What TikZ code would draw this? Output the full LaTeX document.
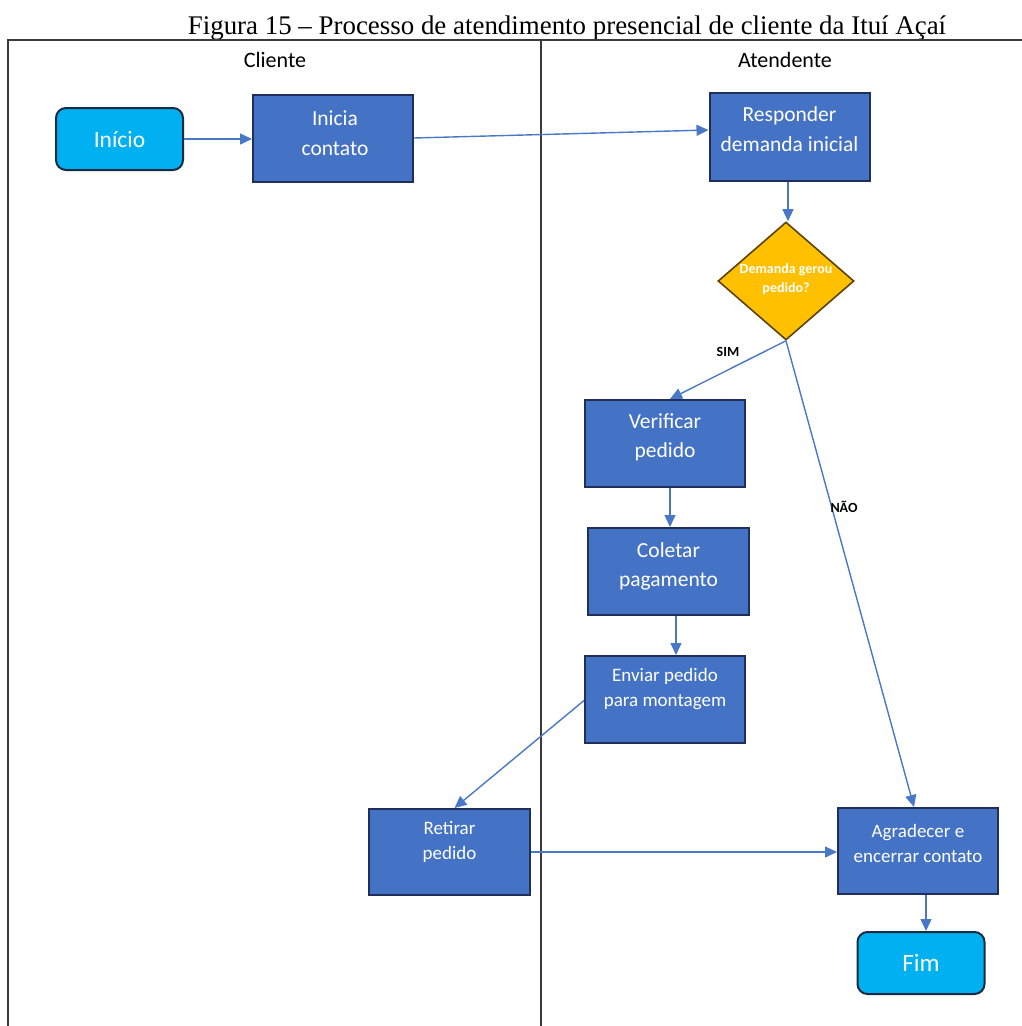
\documentclass[tikz,border=0pt]{standalone}
\usepackage{fontspec}
\setmainfont{Carlito}
\newfontfamily\capfont{Liberation Serif}
\usetikzlibrary{shapes.geometric,arrows.meta,calc}
\definecolor{boxblue}{HTML}{4472C4}
\definecolor{boxedge}{HTML}{1F2F5A}
\definecolor{termcyan}{HTML}{00B0F0}
\definecolor{termedge}{HTML}{1A2A40}
\definecolor{dgold}{HTML}{FFC000}
\definecolor{dedge}{HTML}{5A4500}
\definecolor{arrblue}{HTML}{4A78C8}
\definecolor{frame}{HTML}{3A3A3A}
\begin{document}
\begin{tikzpicture}[x=1pt,y=-1pt,
  stepbox/.style={draw=boxedge, fill=boxblue, line width=2pt, minimum width=160pt, minimum height=87pt, inner sep=0pt},
  term/.style={draw=termedge, fill=termcyan, line width=2pt, rounded corners=10pt, minimum width=127pt, minimum height=62pt, inner sep=0pt, text=white, font=\fontsize{23.5}{25}\selectfont},
  dec/.style={diamond, draw=dedge, fill=dgold, line width=1.6pt, minimum width=136pt, minimum height=118pt, inner sep=0pt},
  btxt/.style={text=white, align=center, font=\fontsize{21.5}{29.5}\selectfont},
  stxt/.style={text=white, align=center, font=\fontsize{19}{25}\selectfont},
  dtxt/.style={text=white, align=center, font=\bfseries\fontsize{14}{18.5}\selectfont},
  conn/.style={draw=arrblue, line width=1.4pt, -{Triangle[length=12pt,width=11pt]}},
  lab/.style={font=\bfseries\fontsize{14}{16}\selectfont, text=black},
  lane/.style={font=\fontsize{22}{24}\selectfont, text=black},
  frameline/.style={draw=frame, line width=1.5pt}
]
\useasboundingbox (0,0) rectangle (1022,1026);
% caption
\node[font=\capfont\fontsize{26.9}{28}\selectfont, anchor=center] (cap) at (567,28) {Figura 15 – Processo de atendimento presencial de cliente da Ituí Açaí};
% frame
\coordinate (ftl) at (8,40);
\coordinate (ftr) at (1022,40);
\coordinate (fbl) at (8,1026);
\coordinate (mtop) at (541,40);
\coordinate (mbot) at (541,1026);
\draw[frameline] (ftr) -- (ftl) -- (fbl);
\draw[frameline] (mtop) -- (mbot);
\node[lane] (lcli) at (275,60) {Cliente};
\node[lane] (lat) at (785,60) {Atendente};
% nodes
\node[term] (inicio) at (119.5,139) {Início};
\node[stepbox] (inicia) at (333,138) {};
\node[btxt] (tinicia) at ($(inicia.center)+(2,-5)$) {Inicia\\contato};
\node[stepbox, minimum height=88pt] (resp) at (789.5,137) {};
\node[btxt] (tresp) at ($(resp.center)+(0,-8)$) {Responder\\demanda inicial};
\node[dec] (dia) at (786,281) {};
\node[dtxt] (tdia) at ($(dia.center)+(0,-2)$) {Demanda gerou\\pedido?};
\node[stepbox] (verif) at (665,443.5) {};
\node[btxt] (tverif) at ($(verif.center)+(0,-6)$) {Verificar\\pedido};
\node[stepbox, minimum width=161pt] (colet) at (668.5,571.5) {};
\node[btxt] (tcolet) at ($(colet.center)+(0,-5)$) {Coletar\\pagamento};
\node[stepbox] (envia) at (665,699.5) {};
\node[stxt] (tenvia) at ($(envia.center)+(0,-10)$) {Enviar pedido\\para montagem};
\node[stepbox, minimum width=161pt, minimum height=86pt] (retir) at (449.5,852) {};
\node[stxt] (tretir) at ($(retir.center)+(0,-10)$) {Retirar\\pedido};
\node[stepbox, minimum height=86pt] (agrad) at (918,851) {};
\node[stxt] (tagrad) at ($(agrad.center)+(0,-8)$) {Agradecer e\\encerrar contato};
\node[term, font=\fontsize{25}{27}\selectfont] (fim) at (921,963) {Fim};
% connectors
\draw[conn] (inicio.east) -- (inicio.east -| inicia.west);
\draw[conn] (inicia.east) -- ($(resp.west)+(0,-7)$);
\draw[conn] ($(resp.south)+(-1.5,0)$) -- ($(resp.south|-dia.north)+(-1.5,0)$);
\draw[conn] (dia.south) -- ($(verif.north)+(5,0)$);
\node[lab] (lsim) at (728,352) {SIM};
\draw[conn] (dia.south) -- ($(agrad.north)+(-4,0)$);
\node[lab] (lnao) at (844,507) {NÃO};
\draw[conn] ($(verif.south)+(5,0)$) -- ($(verif.south|-colet.north)+(5,0)$);
\draw[conn] ($(colet.south)+(7.5,0)$) -- ($(colet.south|-envia.north)+(7.5,0)$);
\draw[conn] ($(envia.west)+(0,1)$) -- ($(retir.north)+(5,0)$);
\draw[conn] (retir.east) -- (retir.east -| agrad.west);
\draw[conn] ($(agrad.south)+(8,0)$) -- ($(agrad.south|-fim.north)+(8,0)$);
\end{tikzpicture}
\end{document}
